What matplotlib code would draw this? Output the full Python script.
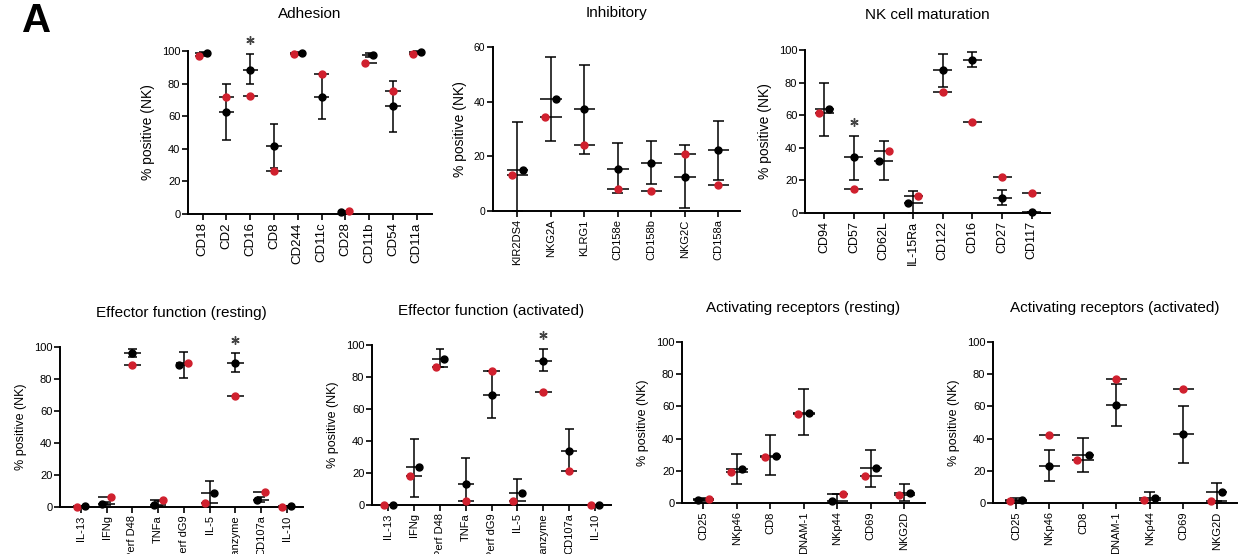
import numpy as np
import matplotlib
matplotlib.use("Agg")
import matplotlib.pyplot as plt

plt.rcParams['font.family'] = ['Liberation Sans', 'DejaVu Sans']

# ---------------- data ----------------
adh_cats = ['CD18', 'CD2', 'CD16', 'CD8', 'CD244', 'CD11c', 'CD28', 'CD11b', 'CD54', 'CD11a']
adh_red = [97, 72, 72.5, 26.5, 98.3, 86, 2, 92.5, 75.5, 98]
adh_blk = [98.5, 62.5, 88.5, 41.5, 98.6, 71.5, 1.5, 97.5, 66, 99.5]
adh_lo = [97.5, 45.5, 79.5, 28, 97.5, 58.5, 1, 96.5, 50.5, 99]
adh_hi = [99.5, 79.5, 98, 55, 99.5, 86, 2, 99, 81.5, 100]
adh_sig = ['CD16']

inh_cats = ['KIR2DS4', 'NKG2A', 'KLRG1', 'CD158e', 'CD158b', 'NKG2C', 'CD158a']
inh_red = [13, 34.5, 24, 8, 7.5, 21, 9.5]
inh_blk = [15, 41, 37.5, 15.5, 17.5, 12.5, 22.5]
inh_lo = [0, 25.5, 21, 6.5, 10, 1, 11.5]
inh_hi = [32.5, 56.5, 53.5, 25, 25.5, 24, 33]
inh_sig = []

mat_cats = ['CD94', 'CD57', 'CD62L', 'IL-15Ra', 'CD122', 'CD16', 'CD27', 'CD117']
mat_red = [61.5, 14.5, 38, 10.5, 74, 56, 22, 12.5]
mat_blk = [63.5, 34.5, 32, 6, 87.5, 94, 9.5, 0.5]
mat_lo = [47.5, 20.5, 20, 0, 77.5, 89.5, 5, 0.5]
mat_hi = [79.5, 47.5, 44, 13.5, 97.5, 99, 14, 0.5]
mat_sig = ['CD57']

eff_cats = ['IL-13', 'IFNg', 'Perf D48', 'TNFa', 'Perf dG9', 'IL-5', 'Granzyme', 'CD107a', 'IL-10']
effr_red = [0, 6.5, 88.5, 4.5, 90, 2.5, 69.5, 9.5, 0]
effr_blk = [0.5, 2, 96, 1.5, 88.5, 8.5, 90, 4.5, 0.5]
effr_lo = [0.5, 1, 93.5, 0.5, 80.5, 0, 84.5, 3, 0.5]
effr_hi = [0.5, 3, 99, 3.5, 97, 16, 96, 6, 0.5]
effr_sig = ['Granzyme']

effa_red = [0, 18, 86.5, 2.5, 83.5, 2.5, 70.5, 21, 0]
effa_blk = [0, 23.5, 91.5, 13, 69, 7.5, 90, 34, 0]
effa_lo = [0, 5, 86.5, 2.5, 54.5, 0, 83.5, 21, 0]
effa_hi = [0, 41.5, 97.5, 29.5, 83.5, 16, 97.5, 47.5, 0]
effa_sig = ['Granzyme']

act_cats = ['CD25', 'NKp46', 'CD8', 'DNAM-1', 'NKp44', 'CD69', 'NKG2D']
actr_red = [2.5, 19.5, 28.5, 55, 5.5, 16.5, 5]
actr_blk = [2, 21, 29.5, 56, 1.5, 21.5, 6.5]
actr_lo = [1, 11.5, 17.5, 42, 0, 10, 1.5]
actr_hi = [3, 30.5, 42, 71, 5.5, 33, 12]
actr_sig = []

acta_red = [1, 42, 26.5, 77, 2, 70.5, 1]
acta_blk = [2, 23, 30, 61, 3, 43, 7]
acta_lo = [1, 13.5, 19, 48, 0, 25, 1.5]
acta_hi = [3, 33, 40.5, 74, 7, 60.5, 12.5]
acta_sig = []

RED = '#d0202e'
W, H = 1239, 554

fig = plt.figure(figsize=(W / 100, H / 100), dpi=100)


def panel(title, cats, red, blk, lo, hi, sig, box, title_y, ymax=100,
          xfs=8, yfs=8, ylfs=9):
    left, right, first, last, top, bottom = box
    ax = fig.add_axes([left / W, 1 - bottom / H, (right - left) / W, (bottom - top) / H])
    n = len(cats)
    sp = (last - first) / (n - 1)
    ax.set_xlim((left - first) / sp, (n - 1) + (right - last) / sp)
    ax.set_ylim(0, ymax)
    x = np.arange(n)
    red = np.asarray(red, float)
    blk = np.asarray(blk, float)
    xr = x.astype(float).copy()
    xb = x.astype(float).copy()
    for i in range(n):
        if abs(blk[i] - red[i]) < 7:
            if red[i] <= blk[i]:
                xr[i] -= 0.17
                xb[i] += 0.17
            else:
                xr[i] += 0.17
                xb[i] -= 0.17
    lw = 1.1
    ax.hlines(red, x - 0.32, x + 0.32, color='k', lw=lw, zorder=2, clip_on=False)
    ax.hlines(blk, x - 0.32, x + 0.32, color='k', lw=lw, zorder=2, clip_on=False)
    ax.vlines(x, lo, hi, color='k', lw=lw, zorder=2, clip_on=False)
    ax.hlines(lo, x - 0.17, x + 0.17, color='k', lw=lw, zorder=2, clip_on=False)
    ax.hlines(hi, x - 0.17, x + 0.17, color='k', lw=lw, zorder=2, clip_on=False)
    ax.plot(xr, red, 'o', color=RED, ms=5, mec=RED, zorder=4, clip_on=False)
    ax.plot(xb, blk, 'o', color='k', ms=5, zorder=5, clip_on=False)
    for s in sig:
        i = cats.index(s)
        ax.plot([i], [hi[i] + ymax * 0.085], marker=(6, 2, 0), ms=6, color='#444444',
                mew=1.0, clip_on=False, zorder=5)
    for sname in ['top', 'right']:
        ax.spines[sname].set_visible(False)
    ax.spines['left'].set_bounds(0, ymax)
    for sname in ['left', 'bottom']:
        ax.spines[sname].set_linewidth(1.4)
    ax.set_yticks(np.arange(0, ymax + 1, 20))
    ax.set_xticks(x)
    ax.set_xticklabels(cats, rotation=90, fontsize=xfs)
    ax.tick_params(axis='y', labelsize=yfs, length=4, width=1.2, direction='out', pad=1.5)
    ax.tick_params(axis='x', length=4, width=1.2, direction='out', pad=2)
    ax.set_ylabel('% positive (NK)', fontsize=ylfs, labelpad=5)
    ax.patch.set_alpha(0)
    cx = (left + right) / 2 / W
    fig.text(cx, 1 - title_y / H, title, ha='center', va='center', fontsize=11)
    return ax


panel('Adhesion', adh_cats, adh_red, adh_blk, adh_lo, adh_hi, adh_sig,
      (188, 432, 202.7, 416.7, 51, 214), 13.5, xfs=9.5, yfs=8, ylfs=10)
panel('Inhibitory', inh_cats, inh_red, inh_blk, inh_lo, inh_hi, inh_sig,
      (493, 740, 517.3, 718.3, 47, 211), 13.5, ymax=60, xfs=8, yfs=7.5, ylfs=10)
panel('NK cell maturation', mat_cats, mat_red, mat_blk, mat_lo, mat_hi, mat_sig,
      (805, 1050, 824.3, 1031.7, 50, 213), 15, xfs=9, yfs=8, ylfs=10)
panel('Effector function (resting)', eff_cats, effr_red, effr_blk, effr_lo, effr_hi, effr_sig,
      (60, 303, 81, 286.7, 347, 507), 313, xfs=8, yfs=8, ylfs=9)
panel('Effector function (activated)', eff_cats, effa_red, effa_blk, effa_lo, effa_hi, effa_sig,
      (372, 611, 388.3, 595, 345, 505), 311.5, xfs=8, yfs=8, ylfs=9)
panel('Activating receptors (resting)', act_cats, actr_red, actr_blk, actr_lo, actr_hi, actr_sig,
      (682, 925, 703.3, 904.3, 342, 503), 308, xfs=8, yfs=8, ylfs=9)
panel('Activating receptors (activated)', act_cats, acta_red, acta_blk, acta_lo, acta_hi, acta_sig,
      (993, 1237, 1016, 1216.7, 342, 503), 308, xfs=8, yfs=8, ylfs=9)

fig.text(37 / W, 1 - 21 / H, 'A', ha='center', va='center', fontsize=29, fontweight='bold')

fig.savefig('out.png', dpi=100)
